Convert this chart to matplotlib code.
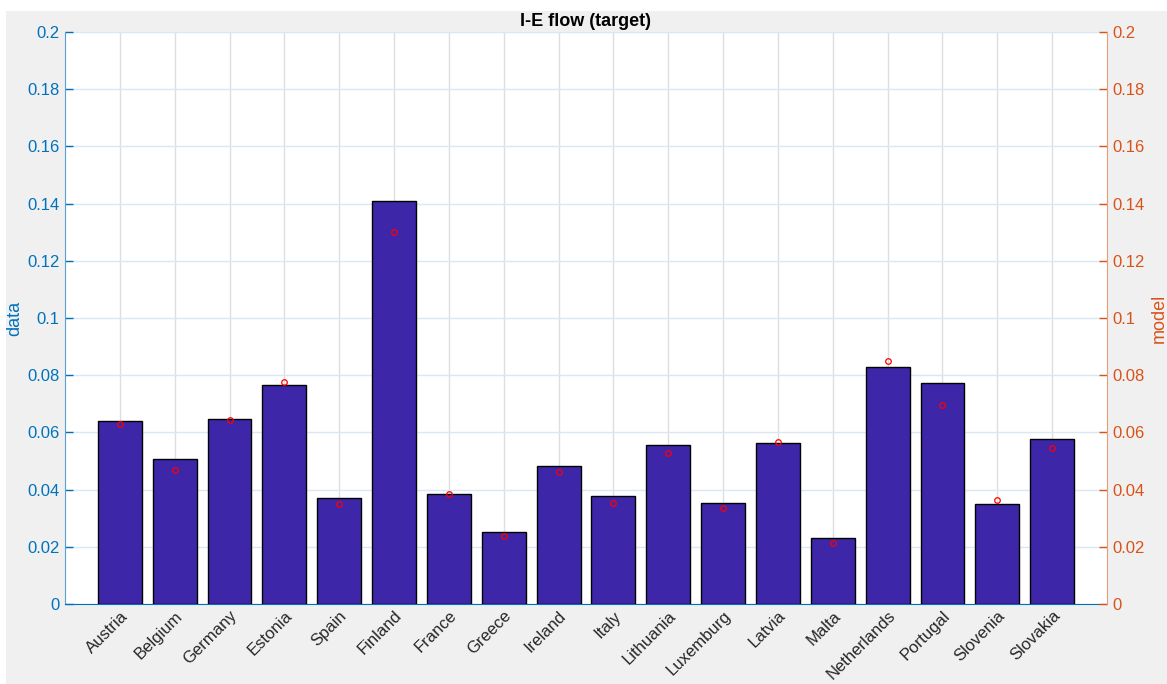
import matplotlib.pyplot as plt
from matplotlib.patches import Rectangle
import numpy as np

plt.rcParams['font.family'] = ['Liberation Sans', 'DejaVu Sans']

countries = ['Austria', 'Belgium', 'Germany', 'Estonia', 'Spain', 'Finland',
             'France', 'Greece', 'Ireland', 'Italy', 'Lithuania', 'Luxemburg',
             'Latvia', 'Malta', 'Netherlands', 'Portugal', 'Slovenia', 'Slovakia']
data_vals = [0.0641, 0.0507, 0.0648, 0.0766, 0.0372, 0.1409,
             0.0385, 0.0251, 0.0481, 0.0376, 0.0555, 0.0353,
             0.0564, 0.0230, 0.0829, 0.0772, 0.0349, 0.0576]
model_vals = [0.0630, 0.0469, 0.0643, 0.0776, 0.0349, 0.1302,
              0.0386, 0.0239, 0.0460, 0.0352, 0.0527, 0.0337,
              0.0566, 0.0214, 0.0849, 0.0697, 0.0365, 0.0544]
yticks = [0, 0.02, 0.04, 0.06, 0.08, 0.1, 0.12, 0.14, 0.16, 0.18, 0.2]
yticklabels = ['0', '0.02', '0.04', '0.06', '0.08', '0.1', '0.12', '0.14', '0.16', '0.18', '0.2']

blue = '#0072BD'
orange = '#D95319'
W, H = 1167, 684

fig = plt.figure(figsize=(W/100, H/100), dpi=100, facecolor='white')
# matlab-ish grey figure area
fig.add_artist(Rectangle((6/W, 0), 1 - 6/W, 1 - 11/H, transform=fig.transFigure,
                         facecolor='#f0f0f0', edgecolor='none', zorder=-10))

ax1 = fig.add_axes([65/W, 80/H, (1107-65)/W, (604-32)/H])
ax1.set_facecolor('white')
x = np.arange(1, len(countries) + 1)

ax1.bar(x, data_vals, width=0.8, color='#3E26A8', edgecolor='black', linewidth=1.0, zorder=3)
ax1.set_xlim(0, 19)
ax1.set_ylim(0, 0.2)
ax1.set_yticks(yticks)
ax1.set_yticklabels(yticklabels)
ax1.set_xticks(x)
ax1.set_xticklabels(countries, rotation=45, ha='right', rotation_mode='anchor', fontsize=12, color='#262626')
ax1.tick_params(axis='x', length=0, pad=3)
ax1.tick_params(axis='y', direction='in', length=6, colors=blue, labelsize=12, width=1, pad=4)
ax1.set_ylabel('data', color=blue, fontsize=13)
ax1.yaxis.set_label_coords(-0.040, 0.5)

# grid: vertical grey, horizontal light blue
for xv in x:
    ax1.axvline(xv, color='#dedede', lw=1.0, zorder=1)
for yv in yticks:
    ax1.axhline(yv, color='#dbe8f3', lw=1.0, zorder=1)

for s in ['top', 'right']:
    ax1.spines[s].set_visible(False)
ax1.spines['left'].set_color('#5a9fd4')
ax1.spines['bottom'].set_color(blue)

ax2 = ax1.twinx()
ax2.plot(x, model_vals, 'o', color='red', markerfacecolor='none', markersize=4, markeredgewidth=0.9, zorder=5)
ax2.set_ylim(0, 0.2)
ax2.set_yticks(yticks)
ax2.set_yticklabels(yticklabels)
ax2.tick_params(axis='y', direction='in', length=6, colors=orange, labelsize=12, width=1, pad=4)
ax2.set_ylabel('model', color=orange, fontsize=13)
ax2.yaxis.set_label_coords(1.042, 0.5)
for s in ['top', 'left', 'bottom']:
    ax2.spines[s].set_visible(False)
ax2.spines['right'].set_color('#e89c78')

ax1.set_title('I-E flow (target)', fontsize=13, fontweight='bold', pad=4)

fig.savefig('out.png', dpi=100, facecolor=fig.get_facecolor())
